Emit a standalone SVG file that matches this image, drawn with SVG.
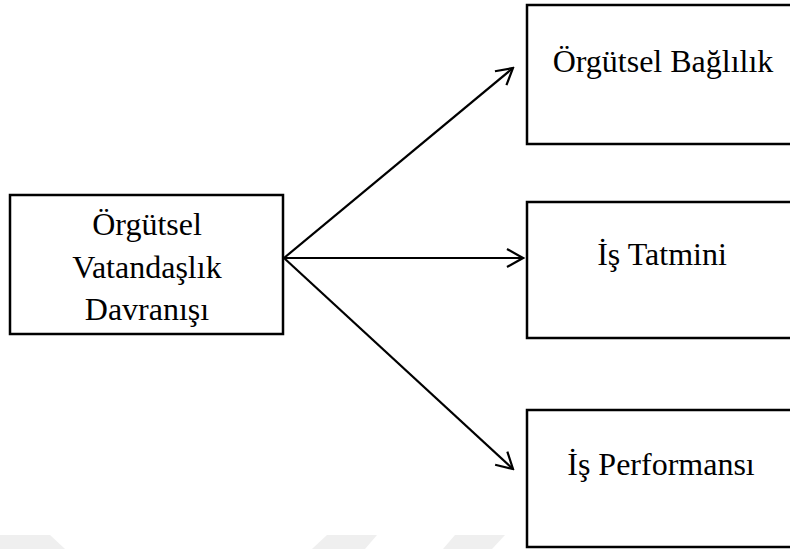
<svg xmlns="http://www.w3.org/2000/svg" width="790" height="549" viewBox="0 0 790 549">
<style>
.box{fill:#fff;stroke:#000;stroke-width:2.5}
.lbl{font-family:"Liberation Serif","Times New Roman",serif;font-size:32px;fill:#000;text-anchor:middle}
.conn{stroke:#000;stroke-width:2.2;fill:none}
.wm{fill:#efefef}
</style>
<defs>
<marker id="arr" markerUnits="userSpaceOnUse" viewBox="-18 -11 20 22" refX="0" refY="0" markerWidth="20" markerHeight="22" orient="auto">
<path d="M-16,-9 L0,0 L-16,9" fill="none" stroke="#000" stroke-width="2.2"/>
</marker>
</defs>
<rect width="790" height="549" fill="#fff"/>
<g id="watermark">
<polygon class="wm" points="0,535 50,535 65,549 0,549"/>
<polygon class="wm" points="327,535 377,535 365,549 312,549"/>
<polygon class="wm" points="455,535 505,535 492,549 443,549"/>
</g>
<g id="connectors">
<line class="conn" x1="284" y1="258" x2="513" y2="68" marker-end="url(#arr)"/>
<line class="conn" x1="284" y1="258" x2="523" y2="258" marker-end="url(#arr)"/>
<line class="conn" x1="284" y1="258" x2="513" y2="469" marker-end="url(#arr)"/>
</g>
<g id="n-ovd">
<rect class="box" x="10" y="195" width="273" height="139"/>
<text class="lbl" x="147" y="235">Örgütsel</text>
<text class="lbl" x="147" y="278">Vatandaşlık</text>
<text class="lbl" x="147" y="320">Davranışı</text>
</g>
<g id="n-bag">
<rect class="box" x="527" y="5" width="280" height="139"/>
<text class="lbl" x="663" y="72">Örgütsel Bağlılık</text>
</g>
<g id="n-tat">
<rect class="box" x="527" y="202" width="280" height="136"/>
<text class="lbl" x="662" y="265">İş Tatmini</text>
</g>
<g id="n-perf">
<rect class="box" x="527" y="410" width="280" height="137"/>
<text class="lbl" x="661" y="475">İş Performansı</text>
</g>
</svg>
